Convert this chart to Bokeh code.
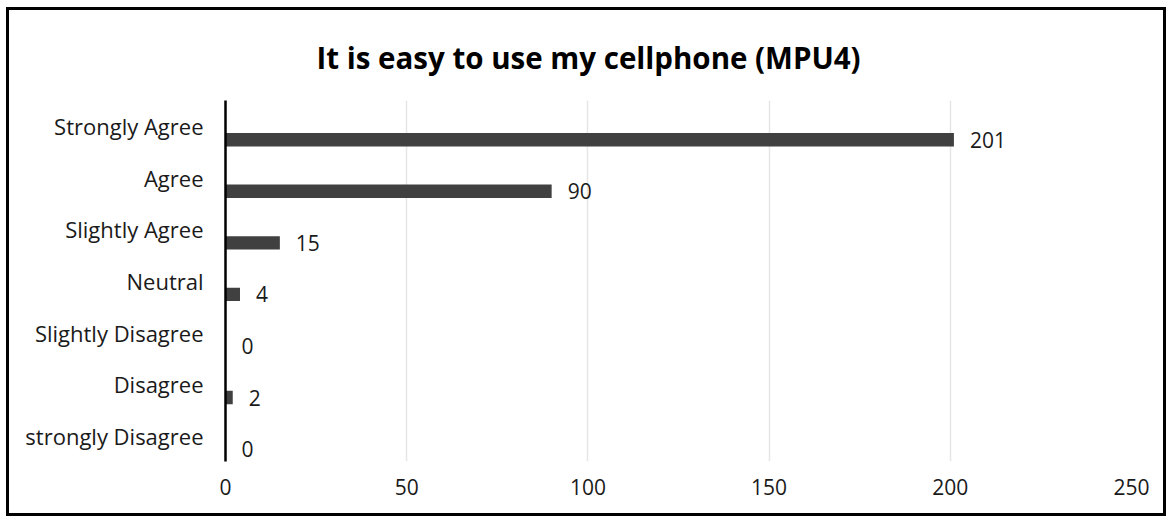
from bokeh.plotting import figure
from bokeh.models import ColumnDataSource, FactorRange, Range1d, FixedTicker, Title
from bokeh.transform import dodge
from bokeh.core.properties import value
from bokeh.embed import file_html
from bokeh.resources import INLINE

categories = ["Strongly Agree", "Agree", "Slightly Agree", "Neutral",
              "Slightly Disagree", "Disagree", "strongly Disagree"]
counts = [201, 90, 15, 4, 0, 2, 0]
x_ticks = [0, 50, 100, 150, 200, 250]
title_text = "It is easy to use my cellphone (MPU4)"

FONT = "Open Sans"
W, H = 1160, 509

source = ColumnDataSource(data=dict(cat=categories, count=counts,
                                    label=[str(c) for c in counts]))

p = figure(
    width=W, height=H,
    y_range=FactorRange(factors=list(reversed(categories))),
    x_range=Range1d(0, 250),
    output_backend="svg", toolbar_location=None,
    min_border_left=216, min_border_right=38,
    min_border_top=90, min_border_bottom=58,
)
p.styles = {"border": "3px solid black", "margin-left": "6px", "margin-top": "7px"}
p.outline_line_color = None
p.background_fill_color = "white"
p.border_fill_color = "white"

# chart title
p.add_layout(Title(text=title_text, align="left", offset=91,
                   text_font=FONT, text_font_size="29.5px",
                   text_font_style="bold", text_color="black",
                   standoff=46), "above")

p.hbar(y=dodge("cat", -0.26, range=p.y_range), right="count", left=0,
       height=0.26, source=source, fill_color="#404040", line_color=None)

p.text(x="count", y=dodge("cat", -0.26, range=p.y_range), text="label",
       source=source, x_offset=16, text_align="left", text_baseline="middle",
       text_font=value(FONT), text_font_size="21px", text_color="#1a1a1a")

p.xaxis.ticker = FixedTicker(ticks=x_ticks)
p.xaxis.axis_line_color = None
p.xaxis.major_tick_line_color = None
p.xaxis.minor_tick_line_color = None
p.xaxis.major_tick_out = 0
p.xaxis.major_tick_in = 0
p.xaxis.major_label_standoff = 17
p.xaxis.major_label_text_font = FONT
p.xaxis.major_label_text_font_size = "21px"
p.xaxis.major_label_text_color = "#1a1a1a"

p.yaxis.axis_line_color = "black"
p.yaxis.axis_line_width = 2.5
p.yaxis.major_tick_line_color = None
p.yaxis.minor_tick_line_color = None
p.yaxis.major_tick_out = 0
p.yaxis.major_tick_in = 0
p.yaxis.major_label_standoff = 22
p.yaxis.major_label_text_font = FONT
p.yaxis.major_label_text_font_size = "22px"
p.yaxis.major_label_text_color = "#1a1a1a"

p.xgrid.grid_line_color = "#e6e6e6"
p.xgrid.grid_line_width = 1.5
p.ygrid.grid_line_color = None

open("out.html", "w").write(file_html(p, INLINE))
